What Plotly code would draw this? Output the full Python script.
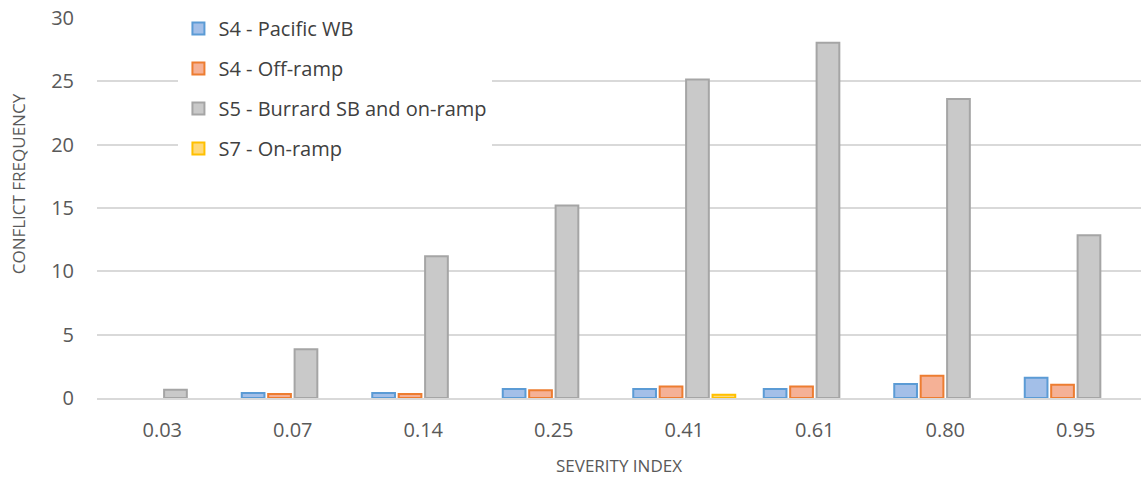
import plotly.graph_objects as go

# Severity index categories on the x axis
severity = ["0.03", "0.07", "0.14", "0.25", "0.41", "0.61", "0.80", "0.95"]

# Conflict frequency per location (None = no conflicts recorded)
s4_pacific_wb = [None, 0.4, 0.4, 0.72, 0.72, 0.72, 1.1, 1.6]
s4_off_ramp = [None, 0.32, 0.32, 0.62, 0.9, 0.9, 1.75, 1.05]
s5_burrard = [0.65, 3.85, 11.2, 15.2, 25.15, 28.05, 23.6, 12.85]
s7_on_ramp = [None, None, None, None, 0.25, None, None, None]

series = [
    ("S4 - Pacific WB", s4_pacific_wb, "#a3bfe8", "#5b9bd5"),
    ("S4 - Off-ramp", s4_off_ramp, "#f5b196", "#ed7d31"),
    ("S5 - Burrard SB and on-ramp", s5_burrard, "#c9c9c9", "#a5a5a5"),
    ("S7 - On-ramp", s7_on_ramp, "#ffd97a", "#ffc000"),
]

fig = go.Figure()
for i, (name, vals, fill, line) in enumerate(series):
    fig.add_trace(go.Bar(
        x=severity, y=vals, name=name, legendgroup=f"g{i}",
        marker=dict(color=fill, line=dict(color=line, width=2)),
    ))

font_family = "Open Sans, DejaVu Sans, sans-serif"
fig.update_layout(
    width=1141, height=478,
    margin=dict(l=97, r=0, t=18, b=80),
    paper_bgcolor="white", plot_bgcolor="white",
    barmode="group", bargap=0.19, bargroupgap=0.14,
    font=dict(family=font_family, color="#595959", size=20),
    legend=dict(
        x=0.078, y=1.0235, xanchor="left", yanchor="top",
        bgcolor="white", font=dict(size=20, color="#404040"),
        tracegroupgap=11, itemwidth=30,
    ),
    xaxis=dict(
        title=dict(text="SEVERITY INDEX", font=dict(size=17, color="#595959"), standoff=18),
        showline=True, linecolor="#d9d9d9", linewidth=2,
        ticks="", ticklabelstandoff=13, tickfont=dict(size=20),
    ),
    yaxis=dict(
        range=[0, 30], dtick=5, showgrid=True, gridcolor="#d9d9d9", gridwidth=2,
        zeroline=False, ticks="", ticklabelstandoff=22, tickfont=dict(size=20),
    ),
    annotations=[dict(
        text="CONFLICT FREQUENCY", textangle=-90, showarrow=False,
        xref="paper", yref="paper", x=-0.0757, y=0.565,
        xanchor="center", yanchor="middle",
        font=dict(size=17, color="#595959"),
    )],
)

fig.write_html("out.html")
